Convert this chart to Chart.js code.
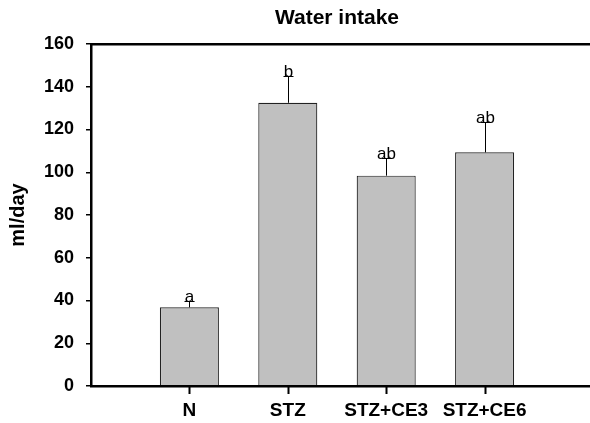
<!DOCTYPE html>
<html>
<head>
<meta charset="utf-8">
<script src="https://cdn.jsdelivr.net/npm/chart.js@4"></script>
<style>
  html, body { margin: 0; padding: 0; background: #fff; }
  #wrap { width: 590px; height: 423px; }
</style>
</head>
<body>
<div id="wrap"><canvas id="chart" width="590" height="423"></canvas></div>
<script>
// Chart data
const categories = ['N', 'STZ', 'STZ+CE3', 'STZ+CE6'];
const waterIntake = [36.8, 132.5, 98.4, 109.3];
const errors = [2.8, 12.5, 8.3, 14.0];
const letters = ['a', 'b', 'ab', 'ab'];
const yTicks = [0, 20, 40, 60, 80, 100, 120, 140, 160];

const FONT = 'Arial, "Liberation Sans", sans-serif';

// one empty slot at each end of the axis, as in the original plot
const labels = [''].concat(categories, ['']);
const values = [null].concat(waterIntake, [null]);

// Error bars, significance letters, title and frame lines
const overlay = {
  id: 'overlay',
  afterDraw(chart) {
    const ctx = chart.ctx;
    const area = chart.chartArea;
    const yScale = chart.scales.y;
    const xScale = chart.scales.x;
    const base = Math.round(area.bottom);
    ctx.save();
    ctx.strokeStyle = '#000';
    ctx.fillStyle = '#000';
    categories.forEach((c, k) => {
      const bx = Math.round(xScale.getPixelForTick(k + 1)) + 0.5;
      const top = yScale.getPixelForValue(waterIntake[k]);
      const cap = Math.round(yScale.getPixelForValue(waterIntake[k] + errors[k])) + 0.5;
      ctx.lineWidth = 1;
      ctx.beginPath();
      ctx.moveTo(bx, top);
      ctx.lineTo(bx, cap);
      ctx.moveTo(bx - 5, cap);
      ctx.lineTo(bx + 5, cap);
      ctx.stroke();
      ctx.font = '17px ' + FONT;
      ctx.textAlign = 'center';
      ctx.textBaseline = 'alphabetic';
      ctx.fillText(letters[k], bx, cap);
      // category tick mark under the axis
      ctx.fillRect(bx - 1, base, 2, 8);
    });
    // frame lines: top and bottom reach the right edge
    ctx.fillRect(area.left, Math.round(area.top) - 1, chart.width - area.left, 2.5);
    ctx.fillRect(area.left - 1, base - 1, chart.width - area.left + 1, 2.5);
    // title centred over the plot area
    ctx.font = 'bold 21px ' + FONT;
    ctx.textAlign = 'center';
    ctx.textBaseline = 'middle';
    ctx.fillText('Water intake', (area.left + area.right) / 2, 18);
    ctx.restore();
  }
};

new Chart(document.getElementById('chart'), {
  type: 'bar',
  data: {
    labels: labels,
    datasets: [{
      data: values,
      backgroundColor: '#c0c0c0',
      borderColor: '#222',
      borderWidth: 1.2,
      borderSkipped: 'bottom',
      barPercentage: 0.6,
      categoryPercentage: 1
    }]
  },
  options: {
    responsive: false,
    animation: false,
    layout: { padding: { top: 44, left: 0, right: 0, bottom: 0 } },
    plugins: {
      legend: { display: false },
      tooltip: { enabled: false },
      title: { display: false }
    },
    scales: {
      x: {
        offset: false,
        afterFit: s => { s.height = 37; },
        border: { display: false },
        grid: {
          offset: false,
          drawOnChartArea: false,
          tickLength: 6,
          tickColor: 'rgba(0,0,0,0)'
        },
        ticks: {
          color: '#000',
          padding: 7,
          maxRotation: 0,
          autoSkip: false,
          font: { family: FONT, size: 19, weight: 'bold' }
        }
      },
      y: {
        min: 0,
        max: 160,
        afterFit: s => { s.width = 91; },
        afterBuildTicks: s => { s.ticks = yTicks.map(v => ({ value: v })); },
        border: { display: true, color: '#000', width: 2.5 },
        grid: {
          drawOnChartArea: false,
          tickLength: 5,
          lineWidth: 1.5,
          color: '#000'
        },
        ticks: {
          color: '#000',
          padding: 12,
          font: { family: FONT, size: 18, weight: 'bold' }
        },
        title: {
          display: true,
          text: 'ml/day',
          color: '#000',
          padding: { top: 6, bottom: 0 },
          font: { family: FONT, size: 20, weight: 'bold' }
        }
      }
    }
  },
  plugins: [overlay]
});
</script>
</body>
</html>
